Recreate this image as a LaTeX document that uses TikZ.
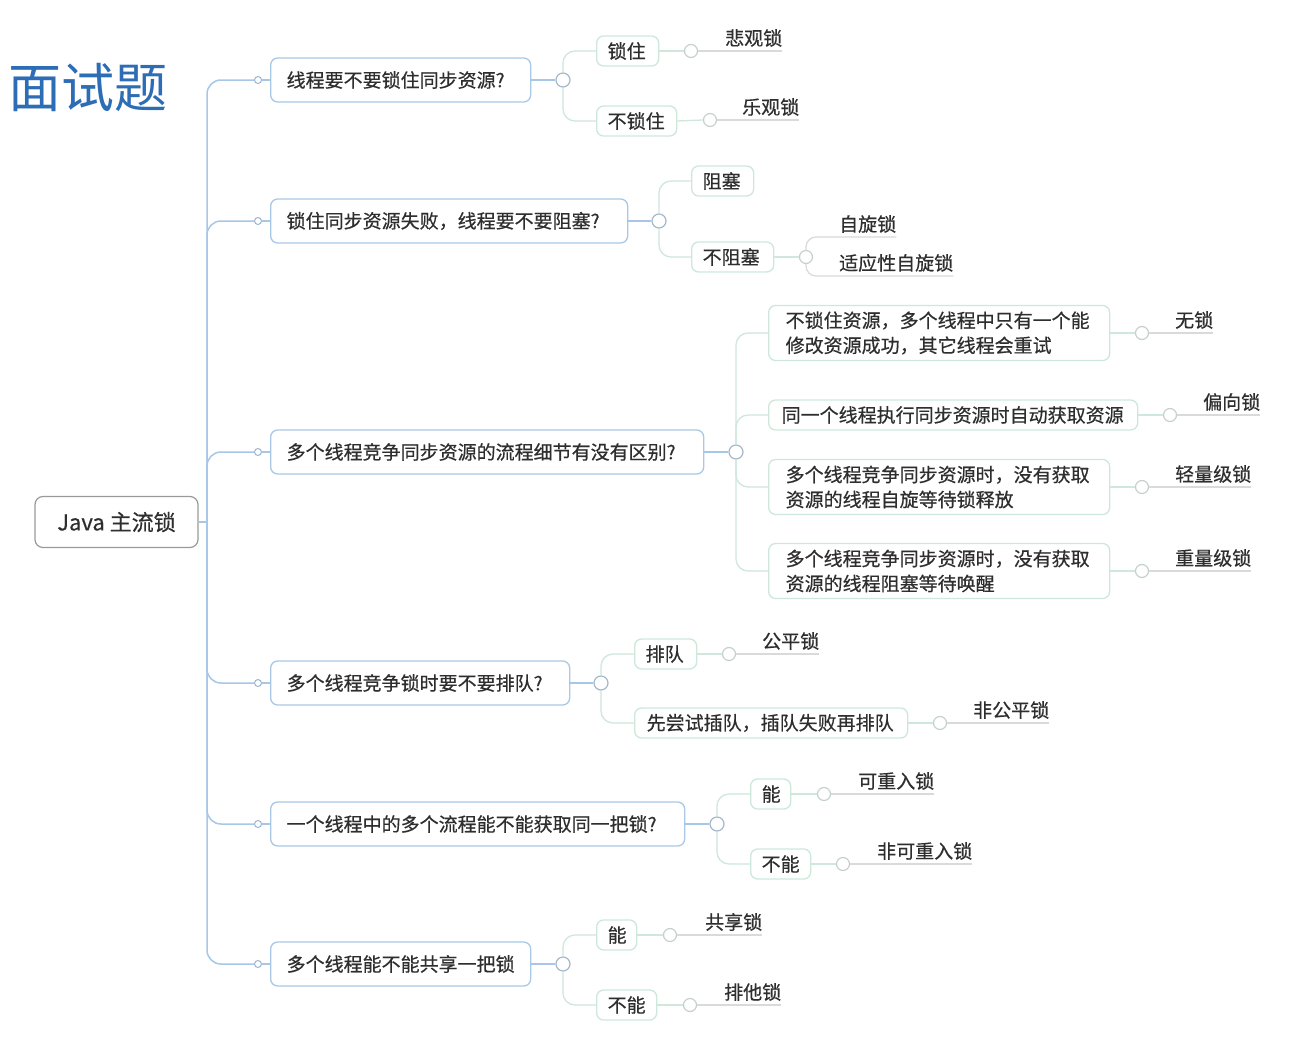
\documentclass[tikz,border=0pt]{standalone}
\usepackage{fontspec}
\setmainfont{Noto Sans CJK SC}[FakeBold=0.5]
\newfontfamily\titlefont{Noto Sans CJK SC}
\newcommand\fs{\fontsize{19}{25}\selectfont}
\definecolor{txtc}{HTML}{2E2E2E}
\definecolor{titlec}{HTML}{2D6DB5}
\definecolor{qc}{HTML}{A9C8E6}
\definecolor{ac}{HTML}{CDE8DB}
\definecolor{rootc}{HTML}{9A9A9A}
\definecolor{spc}{HTML}{A6C7E7}
\definecolor{alc}{HTML}{CFE7DC}
\definecolor{llc}{HTML}{DADADA}
\definecolor{sdc}{HTML}{98B6D4}
\definecolor{bdc}{HTML}{A4B8CC}
\definecolor{ldc}{HTML}{C4D2CB}
\begin{document}
\begin{tikzpicture}[x=1pt,y=-1pt,
 qbox/.style={draw=qc, line width=1.3pt, rounded corners=7pt, fill=white, anchor=west, inner xsep=16pt, inner ysep=2pt, minimum height=44pt, align=left, text=txtc, font=\fs},
 abox/.style={draw=ac, line width=1.3pt, rounded corners=7pt, fill=white, anchor=west, inner xsep=11pt, inner ysep=2pt, minimum height=30pt, align=left, text=txtc, font=\fs},
 rootbox/.style={draw=rootc, line width=1.2pt, rounded corners=8pt, fill=white, minimum width=163pt, minimum height=51pt, text=txtc, font=\fontsize{22}{26}\selectfont},
 sdot/.style={circle, draw=sdc, fill=white, line width=1pt, inner sep=0pt, minimum size=7pt},
 bdot/.style={circle, draw=bdc, fill=white, line width=1.2pt, inner sep=0pt, minimum size=14pt},
 ldot/.style={circle, draw=ldc, fill=white, line width=1.2pt, inner sep=0pt, minimum size=13pt},
 leaf/.style={anchor=south west, inner xsep=0pt, inner ysep=4pt, text=txtc, font=\fs},
 spine/.style={draw=spc, line width=1.5pt, rounded corners=14pt},
 qline/.style={draw=spc, line width=1.5pt},
 aline/.style={draw=alc, line width=1.3pt, rounded corners=12pt},
 lline/.style={draw=llc, line width=1.2pt, rounded corners=10pt},
]
\useasboundingbox (0,0) rectangle (1302,1044);
\fill[white] (0,0) rectangle (1302,1044);

% title
\node[anchor=west, inner sep=0pt, text=titlec, font=\titlefont\fontsize{53}{60}\selectfont] (title) at (8,87) {面试题};

% root
\node[rootbox] (root) at (116.5,522) {Java 主流锁};
\coordinate (hub) at (207,522);

% level 1 boxes
\node[qbox, text width=228pt] (q1) at (270,80) {线程要不要锁住同步资源?};
\node[qbox, text width=325pt] (q2) at (270,221) {锁住同步资源失败，线程要不要阻塞?};
\node[qbox, text width=401pt] (q3) at (270,452) {多个线程竞争同步资源的流程细节有没有区别?};
\node[qbox, text width=267pt] (q4) at (270,683) {多个线程竞争锁时要不要排队?};
\node[qbox, text width=382pt] (q5) at (270,824) {一个线程中的多个流程能不能获取同一把锁?};
\node[qbox, text width=228pt] (q6) at (270,964) {多个线程能不能共享一把锁};

% spine dots
\foreach \i/\y in {1/80,2/221,3/452,4/683,5/824,6/964}{
  \node[sdot] (s\i) at (258,\y) {};
}
\draw[qline] (root.east) -- (hub);
\foreach \i in {1,...,6}{
  \draw[spine] (hub) |- (s\i.west);
  \draw[qline] (s\i.east) -- (q\i.west);
}

% branch dots
\node[bdot] (b1) at (563,80) {};
\node[bdot] (b2) at (659,221) {};
\node[bdot] (b3) at (736,452) {};
\node[bdot] (b4) at (601,683) {};
\node[bdot] (b5) at (717,824) {};
\node[bdot] (b6) at (563,964) {};
\foreach \i in {1,...,6}{ \draw[qline] (q\i.east) -- (b\i.west); }

% level 2 boxes
\node[abox, text width=40pt] (a1a) at (596,51) {锁住};
\node[abox, text width=58pt] (a1b) at (596,121) {不锁住};
\node[abox, text width=40pt] (a2a) at (691,181) {阻塞};
\node[abox, text width=60pt] (a2b) at (691,257) {不阻塞};
\node[abox, inner xsep=17pt, text width=307pt, minimum height=55pt] (a3a) at (768,333) {不锁住资源，多个线程中只有一个能\\修改资源成功，其它线程会重试};
\node[abox, inner xsep=13pt, text width=343pt] (a3b) at (768,415) {同一个线程执行同步资源时自动获取资源};
\node[abox, inner xsep=17pt, text width=307pt, minimum height=55pt] (a3c) at (768,487) {多个线程竞争同步资源时，没有获取\\资源的线程自旋等待锁释放};
\node[abox, inner xsep=17pt, text width=307pt, minimum height=55pt] (a3d) at (768,571) {多个线程竞争同步资源时，没有获取\\资源的线程阻塞等待唤醒};
\node[abox, text width=40pt] (a4a) at (634,654) {排队};
\node[abox, inner xsep=12pt, text width=249pt] (a4b) at (634,723) {先尝试插队，插队失败再排队};
\node[abox, text width=18pt] (a5a) at (750,794) {能};
\node[abox, text width=38pt] (a5b) at (750,864) {不能};
\node[abox, text width=18pt] (a6a) at (596,935) {能};
\node[abox, text width=38pt] (a6b) at (596,1005) {不能};

% level 2 connectors
\draw[aline] (b1.north) |- (a1a.west);
\draw[aline] (b1.south) |- (a1b.west);
\draw[aline] (b2.north) |- (a2a.west);
\draw[aline] (b2.south) |- (a2b.west);
\draw[aline] (b3.north) |- (a3a.west);
\draw[aline] (b3.north) |- (a3b.west);
\draw[aline] (b3.south) |- (a3c.west);
\draw[aline] (b3.south) |- (a3d.west);
\draw[aline] (b4.north) |- (a4a.west);
\draw[aline] (b4.south) |- (a4b.west);
\draw[aline] (b5.north) |- (a5a.west);
\draw[aline] (b5.south) |- (a5b.west);
\draw[aline] (b6.north) |- (a6a.west);
\draw[aline] (b6.south) |- (a6b.west);

% leaf dots
\node[ldot] (d1a) at (691,51) {};
\node[ldot] (d1b) at (710,120) {};
\node[ldot] (d2b) at (806,257) {};
\node[ldot] (d3a) at (1142,333) {};
\node[ldot] (d3b) at (1170,415) {};
\node[ldot] (d3c) at (1142,487) {};
\node[ldot] (d3d) at (1142,571) {};
\node[ldot] (d4a) at (729,654) {};
\node[ldot] (d4b) at (940,723) {};
\node[ldot] (d5a) at (824,794) {};
\node[ldot] (d5b) at (843,864) {};
\node[ldot] (d6a) at (670,935) {};
\node[ldot] (d6b) at (690,1005) {};

\foreach \n in {1a,1b,2b,3a,3b,3c,3d,4a,4b,5a,5b,6a,6b}{
  \draw[aline] (a\n.east) -- (d\n.west);
}

% leaves
\node[leaf] (t1a) at (725,51) {悲观锁};
\node[leaf] (t1b) at (742,120) {乐观锁};
\node[leaf] (t2b1) at (839,237) {自旋锁};
\node[leaf] (t2b2) at (839,276) {适应性自旋锁};
\node[leaf] (t3a) at (1175,333) {无锁};
\node[leaf] (t3b) at (1203,415) {偏向锁};
\node[leaf] (t3c) at (1175,487) {轻量级锁};
\node[leaf] (t3d) at (1175,571) {重量级锁};
\node[leaf] (t4a) at (762,654) {公平锁};
\node[leaf] (t4b) at (973,723) {非公平锁};
\node[leaf] (t5a) at (858,794) {可重入锁};
\node[leaf] (t5b) at (877,864) {非可重入锁};
\node[leaf] (t6a) at (705,935) {共享锁};
\node[leaf] (t6b) at (724,1005) {排他锁};

\foreach \n in {1a,1b,3a,3b,3c,3d,4a,4b,5a,5b,6a,6b}{
  \draw[lline] (d\n.east) -- (t\n.south east);
}
\draw[lline] (d2b.north) |- (t2b1.south east);
\draw[lline] (d2b.south) |- (t2b2.south east);
\end{tikzpicture}
\end{document}
